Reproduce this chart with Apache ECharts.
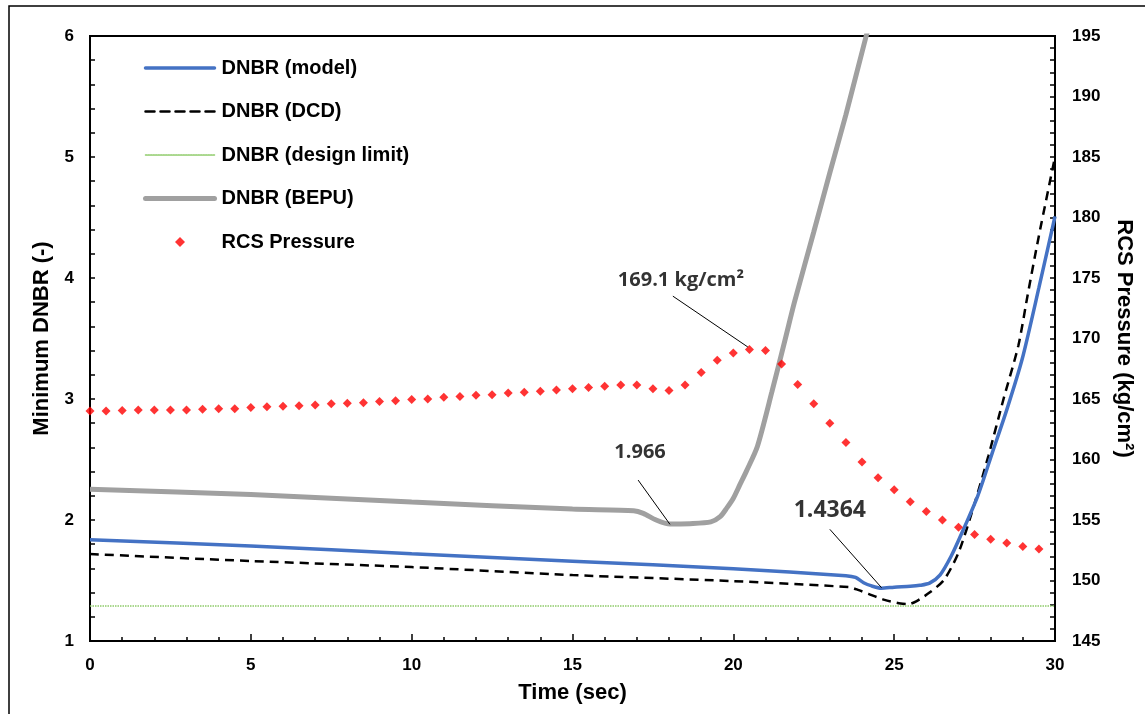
<!DOCTYPE html>
<html><head><meta charset="utf-8">
<script src="https://cdn.jsdelivr.net/npm/echarts@6/dist/echarts.min.js"></script>
<style>html,body{margin:0;padding:0;background:#fff}#c{width:1145px;height:714px}</style>
</head><body><div id="c"></div><script>
// ---- data ----
const modelTime = [0,5,10,15,20,23.5,23.8,24.05,24.3,24.6,25.0,25.5,25.8,26.1,26.43,26.77,27.1,27.6,28.05,28.5,28.98,29.5,30];
const modelDNBR = [1.837,1.786,1.722,1.660,1.597,1.540,1.525,1.482,1.455,1.4364,1.445,1.452,1.460,1.478,1.547,1.700,1.890,2.200,2.555,2.910,3.330,3.920,4.510];

const dcdTime = [0,5,10,15,20,23.6,23.9,24.2,24.7,25.2,25.45,25.7,26.1,26.55,27.0,27.47,27.93,28.4,28.86,29.15,29.5,30];
const dcdDNBR = [1.719,1.661,1.611,1.545,1.495,1.445,1.420,1.390,1.340,1.310,1.305,1.330,1.400,1.505,1.730,2.110,2.530,3.000,3.440,3.860,4.350,5.000];

const limitTime = [0,30];
const limitDNBR = [1.29,1.29];

const bepuTime = [0,5,10,15,16.9,17.2,17.6,18.03,18.65,19.3,19.6,19.8,20.0,20.2,20.4,20.75,21.2,21.6,21.9,22.5,23.0,23.5,24.13,24.6];
const bepuDNBR = [2.254,2.210,2.149,2.090,2.077,2.055,2.000,1.966,1.970,1.985,2.030,2.100,2.180,2.290,2.400,2.610,3.060,3.480,3.800,4.380,4.870,5.350,6.000,6.450];

const pressureTime = [0,0.5,1,1.5,2,2.5,3,3.5,4,4.5,5,5.5,6,6.5,7,7.5,8,8.5,9,9.5,10,10.5,11,11.5,12,12.5,13,13.5,14,14.5,15,15.5,16,16.5,17,17.5,18,18.5,19,19.5,20,20.5,21,21.5,22,22.5,23,23.5,24,24.5,25,25.5,26,26.5,27,27.5,28,28.5,29,29.5];
const pressureVal = [164.0,164.0,164.05,164.1,164.1,164.1,164.1,164.15,164.2,164.2,164.3,164.35,164.4,164.45,164.5,164.6,164.65,164.7,164.8,164.85,164.95,165.0,165.15,165.2,165.3,165.35,165.5,165.55,165.65,165.75,165.85,165.95,166.05,166.15,166.15,165.85,165.7,166.15,167.2,168.2,168.8,169.1,169.0,167.9,166.2,164.6,163.0,161.4,159.8,158.5,157.5,156.5,155.7,155.0,154.4,153.8,153.4,153.1,152.8,152.6];

const seriesNames = ['DNBR (model)','DNBR (DCD)','DNBR (design limit)','DNBR (BEPU)','RCS Pressure'];

// annotations (data coordinates)
const noteTexts = ['169.1 kg/cm²','1.966','1.4364'];
const noteTextPos = [[18.37,174.8],[17.1,2.56],[23.0,2.077]];
const noteLineFrom = [[18.12,173.5],[17.04,2.33],[23.0,1.923]];
const noteLineTo = [[20.45,169.3],[18.03,1.964],[24.61,1.44]];
const noteAxis = [1,0,0];

const zip = (a,b) => a.map((v,i)=>[v,b[i]]);
const FONT = 'Liberation Sans, Arial, sans-serif';

const lineStyles = [
  {color:'#4472C4', width:3.5},
  {color:'#000', width:2.5, type:[9,6]},
  {color:'#8FCB6A', width:1.5, type:[1.5,1]},
  {color:'#A0A0A0', width:5}
];

const series = [
  {name:seriesNames[0], type:'line', data:zip(modelTime,modelDNBR), symbol:'none', smooth:0.25,
   lineStyle:lineStyles[0], itemStyle:{color:'#4472C4'}, z:3},
  {name:seriesNames[1], type:'line', data:zip(dcdTime,dcdDNBR), symbol:'none', smooth:0.25,
   lineStyle:lineStyles[1], itemStyle:{color:'#000'}, z:2},
  {name:seriesNames[2], type:'line', data:zip(limitTime,limitDNBR), symbol:'none',
   lineStyle:lineStyles[2], itemStyle:{color:'#8FCB6A'}, z:2},
  {name:seriesNames[3], type:'line', data:zip(bepuTime,bepuDNBR), symbol:'none', smooth:0.25,
   lineStyle:lineStyles[3], itemStyle:{color:'#A0A0A0'}, z:2},
  {name:seriesNames[4], type:'scatter', yAxisIndex:1, data:zip(pressureTime,pressureVal), symbol:'diamond', symbolSize:9,
   itemStyle:{color:'#FF0000'}, z:5}
];
noteTexts.forEach((t,i)=>{
  series.push({type:'line', yAxisIndex:noteAxis[i], data:[noteLineFrom[i],noteLineTo[i]], symbol:'none', silent:true,
    lineStyle:{color:'#000', width:1}, z:6});
  series.push({type:'scatter', yAxisIndex:noteAxis[i], data:[noteTextPos[i]], symbolSize:0, silent:true,
    label:{show:true, position:'inside', formatter:t, color:'#000', fontFamily:'Open Sans', fontWeight:'bold', fontSize: i===2?23:20}, z:6});
});

const legendData = seriesNames.map((n,i)=> i<4
  ? {name:n, itemStyle:{opacity:0}, lineStyle:Object.assign({}, lineStyles[i], {cap:'round'})}
  : {name:n, icon:'path://M5,0 L10,5 L5,10 L0,5 Z', itemStyle:{color:'#FF0000'}});

const chart = echarts.init(document.getElementById('c'), null, {renderer:'canvas'});
chart.setOption({
  animation:false,
  backgroundColor:'#fff',
  grid:{left:90, right:90, top:36, bottom:73, show:true, borderColor:'#000', borderWidth:2, backgroundColor:'transparent'},
  legend:{data:legendData, orient:'vertical', left:138, top:53, itemWidth:69, itemHeight:10, itemGap:23.5, symbolKeepAspect:true,
    textStyle:{fontFamily:FONT, fontWeight:'bold', fontSize:20, color:'#000', padding:[0,0,0,2]}},
  graphic:[{type:'rect', shape:{x:9, y:6, width:1200, height:800}, style:{fill:'none', stroke:'#000', lineWidth:1.5}, silent:true, z:-10}],
  xAxis:{type:'value', min:0, max:30, interval:5, name:'Time (sec)', nameLocation:'middle', nameGap:41,
    nameTextStyle:{fontFamily:FONT, fontWeight:'bold', fontSize:22, color:'#000'},
    axisLine:{lineStyle:{color:'#000', width:2}},
    axisTick:{inside:true, length:7, lineStyle:{color:'#000', width:1.5}},
    minorTick:{show:true, splitNumber:5, length:4, lineStyle:{color:'#000', width:1.5}},
    splitLine:{show:false},
    axisLabel:{margin:16, fontFamily:FONT, fontWeight:'bold', fontSize:17, color:'#000'}},
  yAxis:[
    {type:'value', min:1, max:6, interval:1, position:'left', name:'Minimum DNBR (-)', nameLocation:'middle', nameGap:37, nameRotate:90,
     nameTextStyle:{fontFamily:FONT, fontWeight:'bold', fontSize:22, color:'#000'},
     axisLine:{show:true, lineStyle:{color:'#000', width:2}},
     axisTick:{show:true, inside:true, length:5, lineStyle:{color:'#000', width:1.5}},
     minorTick:{show:true, splitNumber:5, length:5, lineStyle:{color:'#000', width:1.5}},
     splitLine:{show:false},
     axisLabel:{margin:16, fontFamily:FONT, fontWeight:'bold', fontSize:17, color:'#000'}},
    {type:'value', min:145, max:195, interval:5, position:'right', name:'RCS Pressure (kg/cm²)', nameLocation:'middle', nameGap:58, nameRotate:-90,
     nameTextStyle:{fontFamily:FONT, fontWeight:'bold', fontSize:22, color:'#000'},
     axisLine:{show:true, lineStyle:{color:'#000', width:2}},
     axisTick:{show:true, inside:true, length:5, lineStyle:{color:'#000', width:1.5}},
     minorTick:{show:true, splitNumber:5, length:5, lineStyle:{color:'#000', width:1.5}},
     splitLine:{show:false},
     axisLabel:{margin:17, fontFamily:FONT, fontWeight:'bold', fontSize:17, color:'#000'}}
  ],
  series:series
});
</script></body></html>
